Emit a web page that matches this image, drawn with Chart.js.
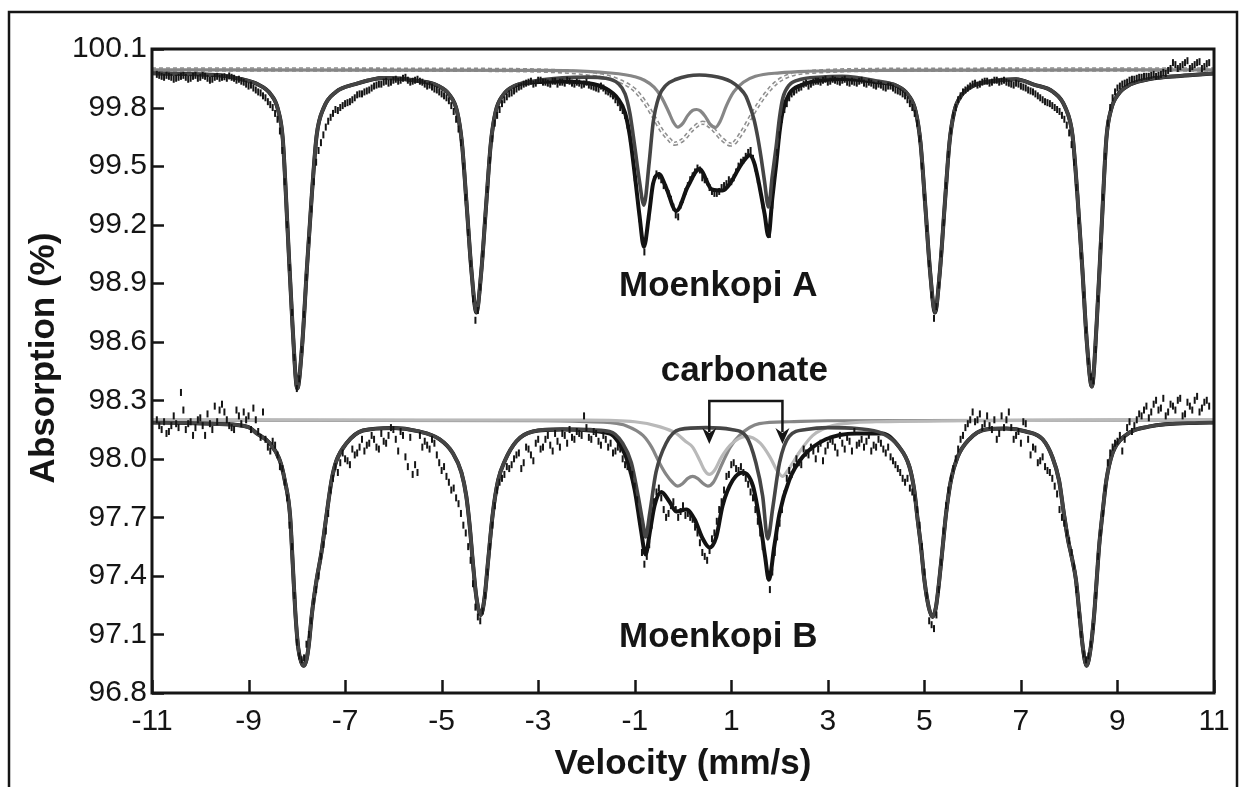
<!DOCTYPE html>
<html>
<head>
<meta charset="utf-8">
<title>Moenkopi Mössbauer spectra</title>
<script src="https://cdn.jsdelivr.net/npm/chart.js@4.4.1/dist/chart.umd.min.js"></script>
<style>
  html, body { margin: 0; padding: 0; background: #ffffff; }
  #wrap { width: 1244px; height: 787px; position: relative; }
</style>
</head>
<body>
<div id="wrap"><canvas id="spectra" width="1244" height="787"></canvas></div>
<script>
// ---- axis ticks ----
const velocityTicks = [-11, -9, -7, -5, -3, -1, 1, 3, 5, 7, 9, 11];
const absorptionTicks = [96.8, 97.1, 97.4, 97.7, 98.0, 98.3, 98.6, 98.9, 99.2, 99.5, 99.8, 100.1];

// ---- measured channels ----
// even channels sit at CHANNEL_START + i * CHANNEL_STEP, odd channels at HALF_START + i * CHANNEL_STEP
const CHANNEL_START = -10.9;
const HALF_START = -10.85;
const CHANNEL_STEP = 0.1;

const countsA = [
  99.97, 99.96, 99.965, 99.955, 99.95, 99.96, 99.955, 99.95, 99.965, 99.955,
  99.96, 99.94, 99.955, 99.95, 99.958, 99.962, 99.95, 99.945, 99.93, 99.91,
  99.9, 99.88, 99.86, 99.83, 99.80, 99.74, 99.58, 99.2, 98.75, 98.36,
  98.56, 98.93, 99.28, 99.52, 99.62, 99.70, 99.75, 99.79, 99.80, 99.82,
  99.83, 99.85, 99.87, 99.88, 99.89, 99.91, 99.92, 99.93, 99.925, 99.94,
  99.935, 99.95, 99.94, 99.935, 99.945, 99.93, 99.91, 99.905, 99.89, 99.87,
  99.85, 99.81, 99.74, 99.62, 99.34, 99.0, 98.71, 98.88, 99.22, 99.53,
  99.72, 99.79, 99.84, 99.87, 99.885, 99.905, 99.92, 99.93, 99.92, 99.94,
  99.93, 99.925, 99.935, 99.92, 99.93, 99.94, 99.925, 99.93, 99.915, 99.93,
  99.91, 99.9, 99.91, 99.885, 99.87, 99.84, 99.80, 99.76, 99.64, 99.44,
  99.23, 99.06, 99.24, 99.43, 99.45, 99.40, 99.36, 99.29, 99.24, 99.33,
  99.40, 99.45, 99.49, 99.44, 99.42, 99.37, 99.36, 99.39, 99.41, 99.42,
  99.47, 99.52, 99.55, 99.58, 99.49, 99.37, 99.24, 99.15, 99.43, 99.66,
  99.79, 99.85, 99.88, 99.90, 99.92, 99.91, 99.93, 99.935, 99.94, 99.93,
  99.945, 99.935, 99.94, 99.93, 99.935, 99.925, 99.94, 99.92, 99.925, 99.91,
  99.915, 99.9, 99.91, 99.89, 99.88, 99.86, 99.82, 99.77, 99.64, 99.34,
  99.0, 98.72, 98.89, 99.21, 99.56, 99.76, 99.84, 99.88, 99.90, 99.92,
  99.915, 99.93, 99.935, 99.93, 99.94, 99.935, 99.93, 99.92, 99.925, 99.91,
  99.90, 99.885, 99.87, 99.85, 99.83, 99.82, 99.80, 99.78, 99.74, 99.67,
  99.52, 99.22, 98.84, 98.50, 98.40, 98.82, 99.34, 99.72, 99.85, 99.90,
  99.92, 99.93, 99.945, 99.95, 99.955, 99.96, 99.965, 99.96, 99.97, 99.975,
  100.0, 100.02, 100.01, 100.03, 100.0, 100.02, 100.035, 100.01, 100.03
];
const countsAHalf = [
  99.965, 99.955, 99.96, 99.945, 99.955, 99.965, 99.945, 99.96, 99.95, 99.965,
  99.95, 99.945, 99.96, 99.955, 99.95, 99.955, 99.94, 99.935, 99.92, 99.915,
  99.89, 99.875, 99.85, 99.815, 99.77, 99.68, 99.42, 98.98, 98.52, 98.41,
  98.74, 99.12, 99.42, 99.58, 99.66, 99.73, 99.77, 99.785, 99.81, 99.825,
  99.84, 99.865, 99.87, 99.885, 99.90, 99.915, 99.92, 99.935, 99.93, 99.945,
  99.94, 99.955, 99.93, 99.94, 99.935, 99.92, 99.915, 99.895, 99.88, 99.86,
  99.835, 99.78, 99.69, 99.5, 99.16, 98.82, 98.76, 99.05, 99.38, 99.64,
  99.76, 99.82, 99.855, 99.875, 99.895, 99.91, 99.925, 99.935, 99.925, 99.94,
  99.93, 99.92, 99.935, 99.93, 99.925, 99.935, 99.92, 99.925, 99.92, 99.915,
  99.905, 99.895, 99.9, 99.88, 99.86, 99.825, 99.785, 99.71, 99.55, 99.33,
  99.12, 99.15, 99.36, 99.46, 99.43, 99.39, 99.33, 99.25, 99.30, 99.37,
  99.43, 99.47, 99.48, 99.43, 99.39, 99.36, 99.37, 99.40, 99.43, 99.44,
  99.50, 99.53, 99.57, 99.54, 99.43, 99.30, 99.17, 99.30, 99.57, 99.74,
  99.82, 99.87, 99.89, 99.905, 99.925, 99.92, 99.935, 99.93, 99.945, 99.935,
  99.94, 99.93, 99.945, 99.925, 99.93, 99.935, 99.925, 99.93, 99.915, 99.92,
  99.905, 99.91, 99.9, 99.885, 99.87, 99.84, 99.80, 99.72, 99.50, 99.18,
  98.84, 98.78, 99.05, 99.40, 99.68, 99.80, 99.86, 99.89, 99.91, 99.925,
  99.92, 99.935, 99.925, 99.94, 99.93, 99.94, 99.925, 99.915, 99.92, 99.905,
  99.89, 99.88, 99.86, 99.84, 99.825, 99.81, 99.79, 99.76, 99.71, 99.61,
  99.39, 99.04, 98.66, 98.42, 98.56, 99.09, 99.55, 99.80, 99.88, 99.91,
  99.925, 99.94, 99.945, 99.955, 99.96, 99.96, 99.97, 99.965, 99.98, 99.99,
  100.03, 100.0, 100.02, 100.04, 100.01, 100.03, 100.0, 100.025
];

const countsB = [
  98.20, 98.15, 98.13, 98.17, 98.18, 98.34, 98.15, 98.19, 98.16, 98.21,
  98.12, 98.18, 98.27, 98.25, 98.24, 98.17, 98.15, 98.22, 98.24, 98.22,
  98.26, 98.14, 98.24, 98.06, 98.09, 98.02, 97.95, 97.80, 97.55, 97.06,
  96.97, 97.05, 97.17, 97.33, 97.50, 97.63, 97.84, 97.96, 97.98, 98.0,
  97.97, 98.02, 98.06, 98.04, 98.08, 98.10, 98.05, 98.09, 98.12, 98.15,
  98.04, 98.12, 97.96, 97.92, 97.93, 98.06, 98.07, 98.1, 98.02, 97.94,
  97.91, 97.84, 97.80, 97.72, 97.62, 97.48, 97.24, 97.17, 97.3, 97.55,
  97.76, 97.88, 97.92, 97.95, 98.0, 98.03, 97.98, 98.05, 97.99, 98.10,
  98.06, 98.12, 98.04, 98.09, 98.13, 98.08, 98.11, 98.14, 98.12, 98.16,
  98.1, 98.13, 98.07, 98.10, 98.08, 98.04, 98.05, 97.97, 97.94, 97.86,
  97.68, 97.46, 97.56, 97.78, 97.85, 97.74, 97.72, 97.78, 97.70, 97.76,
  97.72, 97.69, 97.62, 97.52, 97.48, 97.59, 97.68, 97.78, 97.91, 97.97,
  97.95, 97.96, 97.90, 97.83, 97.74, 97.62, 97.48, 97.33, 97.52, 97.67,
  97.82, 97.94, 97.96, 97.98, 98.05, 98.02, 98.04, 98.05, 97.99, 98.07,
  98.09, 98.03, 98.08, 98.11, 98.04, 98.07, 98.1, 98.09, 98.04, 98.06,
  98.08, 98.03, 98.01, 97.97, 97.93, 97.88, 97.85, 97.80, 97.66, 97.42,
  97.17, 97.13, 97.33, 97.63, 97.84, 97.95, 98.05, 98.12, 98.18, 98.24,
  98.2, 98.16, 98.22, 98.15, 98.1, 98.22, 98.2, 98.16, 98.12, 98.08,
  98.18, 98.02, 98.05, 97.99, 97.96, 97.93, 97.86, 97.74, 97.67, 97.58,
  97.45, 97.2, 97.0, 96.99, 97.14, 97.5, 97.72, 97.98, 98.06, 98.09,
  98.04, 98.16, 98.14, 98.2, 98.22, 98.27, 98.24, 98.3, 98.26, 98.22,
  98.28, 98.25, 98.31, 98.23, 98.27, 98.3, 98.24, 98.29, 98.27
];
const countsBHalf = [
  98.17, 98.19, 98.14, 98.22, 98.16, 98.25, 98.18, 98.12, 98.2, 98.17,
  98.23, 98.15, 98.19, 98.28, 98.2, 98.16, 98.25, 98.18, 98.2, 98.15,
  98.2, 98.11, 98.1, 98.04, 98.07, 97.96, 97.88, 97.66, 97.3, 96.99,
  96.98, 97.1, 97.27, 97.4, 97.56, 97.72, 97.9, 97.93, 98.03, 97.99,
  98.05, 98.03, 98.1, 98.07, 98.12, 98.06, 98.13, 98.08, 98.16, 98.1,
  98.14, 98.01, 98.11, 97.97, 98.12, 98.09, 98.05, 98.08, 97.98, 97.96,
  97.88, 97.85, 97.77, 97.66, 97.55, 97.36, 97.19, 97.22, 97.42, 97.66,
  97.84, 97.9, 97.96, 97.97, 98.02, 97.95, 98.06, 98.02, 98.08, 98.05,
  98.1, 98.07, 98.13, 98.06, 98.12, 98.15, 98.1, 98.13, 98.22, 98.11,
  98.14, 98.09, 98.12, 98.06, 98.03, 98.06, 98.0, 97.96, 97.92, 97.79,
  97.52, 97.5, 97.66, 97.83, 97.8, 97.7, 97.76, 97.74, 97.73, 97.71,
  97.7, 97.65, 97.57, 97.5, 97.53, 97.62, 97.74, 97.84, 97.92, 97.98,
  97.94, 97.93, 97.87, 97.8, 97.68, 97.55, 97.4, 97.42, 97.6, 97.74,
  97.9, 97.92, 98.0, 97.97, 98.03, 98.06, 98.0, 98.08, 98.04, 98.1,
  98.06, 98.12, 98.05, 98.09, 98.14, 98.08, 98.06, 98.12, 98.07, 98.1,
  98.05, 98.06, 97.99, 97.95, 97.9, 97.9, 97.83, 97.74, 97.55, 97.3,
  97.15, 97.2, 97.47, 97.76, 97.9, 98.0, 98.1, 98.16, 98.2, 98.19,
  98.23, 98.18, 98.17, 98.2, 98.13, 98.16, 98.24, 98.1, 98.14, 98.19,
  98.1, 98.06, 97.98, 98.01, 97.94, 97.9, 97.82, 97.7, 97.62, 97.52,
  97.33, 97.1, 96.97, 97.05, 97.3, 97.62, 97.85, 98.03, 98.08, 98.12,
  98.1, 98.19, 98.17, 98.23, 98.25, 98.21, 98.28, 98.25, 98.31, 98.24,
  98.27, 98.3, 98.22, 98.29, 98.25, 98.32, 98.26, 98.3
];

// ---- Moenkopi A fitted curves ----
const fitAVel = [
  -11, -10.3, -9.6, -9.2, -8.8, -8.54, -8.39, -8.29, -8.19, -8.09,
  -7.99, -7.89, -7.79, -7.69, -7.59, -7.44, -7.19, -6.79, -6.2, -5.48,
  -5.08, -4.83, -4.68, -4.58, -4.48, -4.38, -4.28, -4.18, -4.08, -3.98,
  -3.88, -3.73, -3.48, -3.08, -2.5, -2.0, -1.6, -1.35, -1.2, -1.1,
  -1.0, -0.9, -0.81, -0.7, -0.62, -0.5, -0.35, -0.14, 0.1, 0.34,
  0.6, 0.82, 1.0, 1.17, 1.3, 1.38, 1.47, 1.55, 1.62, 1.69,
  1.77, 1.85, 1.93, 2.0, 2.07, 2.2, 2.45, 2.8, 3.3, 4.02,
  4.42, 4.67, 4.82, 4.92, 5.02, 5.12, 5.22, 5.32, 5.42, 5.52,
  5.62, 5.77, 6.02, 6.42, 6.9, 7.27, 7.67, 7.92, 8.07, 8.17,
  8.27, 8.37, 8.47, 8.57, 8.67, 8.77, 8.87, 9.02, 9.27, 9.67,
  10.3, 11
];
const sextetAAbs = [
  99.976, 99.972, 99.965, 99.948, 99.918, 99.868, 99.79, 99.637, 99.17, 98.687,
  98.36, 98.58, 98.98, 99.35, 99.656, 99.80, 99.88, 99.92, 99.952, 99.936,
  99.912, 99.863, 99.78, 99.62, 99.294, 98.956, 98.75, 98.956, 99.294, 99.62,
  99.78, 99.863, 99.912, 99.936, 99.952, 99.956, 99.95, 99.925, 99.87, 99.77,
  99.60, 99.42, 99.30, 99.52, 99.72, 99.855, 99.915, 99.945, 99.962, 99.967,
  99.962, 99.95, 99.932, 99.90, 99.86, 99.81, 99.74, 99.645, 99.54, 99.42,
  99.29, 99.45, 99.60, 99.75, 99.85, 99.915, 99.945, 99.955, 99.96, 99.936,
  99.912, 99.863, 99.78, 99.62, 99.294, 98.956, 98.75, 98.956, 99.294, 99.62,
  99.78, 99.863, 99.912, 99.936, 99.945, 99.917, 99.88, 99.80, 99.656, 99.352,
  98.984, 98.584, 98.37, 98.695, 99.175, 99.639, 99.791, 99.869, 99.919, 99.946,
  99.962, 99.975
];
const fitAAbs = [
  99.976, 99.972, 99.965, 99.948, 99.918, 99.868, 99.79, 99.637, 99.17, 98.687,
  98.36, 98.58, 98.98, 99.35, 99.656, 99.80, 99.88, 99.92, 99.952, 99.936,
  99.912, 99.863, 99.78, 99.62, 99.294, 98.956, 98.75, 98.956, 99.294, 99.62,
  99.78, 99.863, 99.912, 99.93, 99.934, 99.926, 99.898, 99.846, 99.773, 99.653,
  99.458, 99.244, 99.087, 99.26, 99.41, 99.46, 99.39, 99.27, 99.395, 99.485,
  99.38, 99.375, 99.42, 99.495, 99.54, 99.555, 99.52, 99.44, 99.35, 99.255,
  99.14, 99.335, 99.508, 99.675, 99.787, 99.87, 99.915, 99.937, 99.946, 99.93,
  99.912, 99.863, 99.78, 99.62, 99.294, 98.956, 98.75, 98.956, 99.294, 99.62,
  99.78, 99.863, 99.912, 99.936, 99.945, 99.917, 99.88, 99.80, 99.656, 99.352,
  98.984, 98.584, 98.37, 98.695, 99.175, 99.639, 99.791, 99.869, 99.919, 99.946,
  99.962, 99.975
];
const doubletAVel = [-11, -3, -2, -1.5, -1.2, -1.0, -0.8, -0.6, -0.45, -0.3, -0.2, -0.11, 0.0, 0.1, 0.2,
  0.28, 0.36, 0.46, 0.56, 0.67, 0.77, 0.9, 1.05, 1.25, 1.5, 2.0, 2.6, 4, 11];
const doubletAAbs = [99.993, 99.99, 99.985, 99.977, 99.968, 99.958, 99.94, 99.905, 99.855, 99.78, 99.725, 99.70, 99.72, 99.76, 99.785,
  99.79, 99.783, 99.755, 99.715, 99.698, 99.73, 99.81, 99.88, 99.93, 99.96, 99.978, 99.986, 99.99, 99.993];
const dashedAVel = [-11, -4, -2.5, -2.0, -1.6, -1.3, -1.0, -0.8, -0.6, -0.45, -0.3, -0.18, 0.0, 0.2,
  0.41, 0.6, 0.8, 1.0, 1.2, 1.4, 1.6, 1.8, 2.0, 2.3, 2.8, 4, 11];
const dashedAAbs = [99.995, 99.993, 99.985, 99.975, 99.96, 99.935, 99.89, 99.83, 99.75, 99.685, 99.64, 99.615, 99.635, 99.69,
  99.722, 99.695, 99.64, 99.61, 99.665, 99.75, 99.83, 99.895, 99.94, 99.972, 99.985, 99.993, 99.995];

// ---- Moenkopi B fitted curves ----
const sextetBVel = [
  -11, -10.3, -9.6, -9.0, -8.83, -8.56, -8.35, -8.25, -8.14, -8.08,
  -8.03, -7.97, -7.91, -7.855, -7.80, -7.75, -7.69, -7.59, -7.49, -7.38,
  -7.28, -7.18, -6.97, -6.63, -6.0, -5.5, -5.04, -4.77, -4.59, -4.49,
  -4.42, -4.35, -4.28, -4.19, -4.11, -4.04, -3.94, -3.83, -3.69, -3.45,
  -3.11, -2.5, -1.52, -1.25, -1.07, -0.93, -0.83, -0.776, -0.69, -0.56,
  -0.35, -0.07, 0.48, 1.0, 1.31, 1.51, 1.65, 1.755, 1.86, 2.0,
  2.2, 2.55, 3.0, 3.6, 4.13, 4.48, 4.69, 4.79, 4.86, 4.93,
  5.0, 5.09, 5.17, 5.24, 5.31, 5.38, 5.45, 5.55, 5.69, 5.93,
  6.27, 6.7, 7.1, 7.45, 7.65, 7.79, 7.89, 7.98, 8.05, 8.14,
  8.21, 8.28, 8.36, 8.45, 8.52, 8.57, 8.62, 8.69, 8.77, 8.9,
  9.14, 9.65, 10.69, 11
];
const sextetBAbs = [
  98.186, 98.184, 98.178, 98.162, 98.13, 98.08, 97.99, 97.89, 97.71, 97.44,
  97.21, 97.03, 96.96, 96.94, 96.97, 97.05, 97.2, 97.38, 97.52, 97.72,
  97.89, 97.99, 98.08, 98.145, 98.158, 98.142, 98.10, 98.03, 97.93, 97.81,
  97.66, 97.46, 97.29, 97.20, 97.29, 97.47, 97.72, 97.89, 97.99, 98.09,
  98.14, 98.152, 98.14, 98.08, 97.98, 97.81, 97.67, 97.60, 97.72, 97.93,
  98.08, 98.15, 98.16, 98.15, 98.115, 97.98, 97.81, 97.59, 97.75, 97.98,
  98.115, 98.15, 98.16, 98.155, 98.13, 98.06, 97.96, 97.84, 97.69, 97.55,
  97.38, 97.24, 97.19, 97.24, 97.38, 97.55, 97.72, 97.89, 98.01, 98.10,
  98.15, 98.155, 98.14, 98.10, 98.01, 97.89, 97.72, 97.58, 97.50, 97.38,
  97.21, 97.04, 96.94, 97.04, 97.21, 97.38, 97.55, 97.72, 97.89, 98.03,
  98.115, 98.165, 98.185, 98.186
];
const fitBVel = [
  -11, -10.3, -9.6, -9.0, -8.83, -8.56, -8.35, -8.25, -8.14, -8.08,
  -8.03, -7.97, -7.91, -7.855, -7.80, -7.75, -7.69, -7.59, -7.49, -7.38,
  -7.28, -7.18, -6.97, -6.63, -6.0, -5.5, -5.04, -4.77, -4.59, -4.49,
  -4.42, -4.35, -4.28, -4.19, -4.11, -4.04, -3.94, -3.83, -3.69, -3.45,
  -3.11, -2.5, -1.52, -1.35, -1.18, -1.0, -0.87, -0.776, -0.68, -0.59,
  -0.45, -0.28, -0.14, 0.07, 0.24, 0.41, 0.55, 0.69, 0.82, 1.03,
  1.24, 1.45, 1.62, 1.70, 1.78, 1.89, 2.0, 2.2, 2.48, 2.96,
  3.6, 4.13, 4.48, 4.69, 4.79, 4.86, 4.93, 5.0, 5.09, 5.17,
  5.24, 5.31, 5.38, 5.45, 5.55, 5.69, 5.93, 6.27, 6.7, 7.1,
  7.45, 7.65, 7.79, 7.89, 7.98, 8.05, 8.14, 8.21, 8.28, 8.36,
  8.45, 8.52, 8.57, 8.62, 8.69, 8.77, 8.9, 9.14, 9.65, 10.69,
  11
];
const fitBAbs = [
  98.186, 98.184, 98.178, 98.162, 98.13, 98.08, 97.99, 97.89, 97.71, 97.44,
  97.21, 97.03, 96.96, 96.94, 96.97, 97.05, 97.2, 97.38, 97.52, 97.72,
  97.89, 97.99, 98.08, 98.145, 98.158, 98.142, 98.10, 98.03, 97.93, 97.81,
  97.66, 97.46, 97.29, 97.20, 97.29, 97.47, 97.72, 97.89, 97.99, 98.09,
  98.14, 98.15, 98.13, 98.09, 98.01, 97.84, 97.635, 97.51, 97.635, 97.76,
  97.83, 97.78, 97.73, 97.74, 97.69, 97.59, 97.545, 97.60, 97.76, 97.89,
  97.93, 97.86, 97.635, 97.50, 97.38, 97.55, 97.72, 97.89, 98.01, 98.10,
  98.13, 98.13, 98.06, 97.96, 97.84, 97.69, 97.55, 97.38, 97.24, 97.19,
  97.24, 97.38, 97.55, 97.72, 97.89, 98.01, 98.10, 98.15, 98.155, 98.14,
  98.10, 98.01, 97.89, 97.72, 97.58, 97.50, 97.38, 97.21, 97.04, 96.94,
  97.04, 97.21, 97.38, 97.55, 97.72, 97.89, 98.03, 98.115, 98.165, 98.185,
  98.186
];
const doubletBVel = [-11, -3, -2, -1.5, -1.18, -0.83, -0.65, -0.49, -0.35, -0.22, -0.108, 0.0, 0.1,
  0.2, 0.3, 0.41, 0.514, 0.63, 0.82, 0.98, 1.17, 1.58, 2.2, 3.0, 11];
const doubletBAbs = [98.198, 98.195, 98.19, 98.185, 98.17, 98.12, 98.06, 97.98, 97.92, 97.88, 97.86, 97.875, 97.90,
  97.91, 97.90, 97.875, 97.86, 97.88, 97.98, 98.06, 98.12, 98.18, 98.19, 98.195, 98.198];
const carbonateBVel = [-11, -2, -1.0, -0.49, -0.14, 0.05, 0.2, 0.35, 0.45, 0.545, 0.65, 0.8, 1.0,
  1.31, 1.6, 1.8, 1.95, 2.06, 2.17, 2.3, 2.4, 2.69, 3.1, 4, 11];
const carbonateBAbs = [98.2, 98.198, 98.19, 98.165, 98.13, 98.09, 98.06, 97.99, 97.94, 97.92, 97.94, 98.01, 98.075,
  98.115, 98.08, 98.01, 97.94, 97.91, 97.94, 97.99, 98.03, 98.12, 98.17, 98.19, 98.2];

// ---- helpers ----
const FONT = "'Liberation Sans', Arial, Helvetica, sans-serif";
const INK = '#151515';
const pts = (xs, ys) => xs.map((v, i) => ({ x: v, y: ys[i] }));
const channelPts = (start, values) =>
  values.map((v, i) => ({ x: Math.round((start + i * CHANNEL_STEP) * 100) / 100, y: v }));

function curve(data, color, width, order, extra) {
  return Object.assign({
    data, borderColor: color, borderWidth: width, pointRadius: 0,
    cubicInterpolationMode: 'monotone', fill: false, order
  }, extra || {});
}
function channels(even, odd) {
  return {
    data: channelPts(CHANNEL_START, even).concat(channelPts(HALF_START, odd)),
    showLine: false, order: 1,
    pointStyle: 'line', pointRotation: 90, pointRadius: 3.5,
    pointBorderWidth: 2, pointBorderColor: INK, pointBackgroundColor: INK
  };
}

// inward tick marks, plot frame, page border, titles, labels and carbonate bracket
const decorations = {
  id: 'decorations',
  afterDatasetsDraw(chart) {
    const { ctx, chartArea: a, scales: { x, y } } = chart;
    ctx.save();
    ctx.strokeStyle = INK;
    ctx.lineWidth = 2.5;
    ctx.beginPath();
    y.ticks.forEach(t => {
      const py = Math.round(y.getPixelForValue(t.value)) + 0.5;
      ctx.moveTo(a.left, py); ctx.lineTo(a.left + 12, py);
    });
    x.ticks.forEach(t => {
      const px = Math.round(x.getPixelForValue(t.value)) + 0.5;
      ctx.moveTo(px, a.bottom); ctx.lineTo(px, a.bottom - 13);
    });
    ctx.stroke();
    ctx.lineWidth = 3;
    ctx.strokeRect(a.left, a.top, a.right - a.left, a.bottom - a.top);

    // page border
    ctx.lineWidth = 2.5;
    ctx.beginPath();
    ctx.moveTo(9, chart.height); ctx.lineTo(9, 12); ctx.lineTo(1237, 12); ctx.lineTo(1237, chart.height);
    ctx.stroke();

    ctx.fillStyle = INK;
    ctx.font = 'bold 35px ' + FONT;
    ctx.textAlign = 'center';

    // y axis title
    ctx.save();
    ctx.translate(44, 358);
    ctx.rotate(-Math.PI / 2);
    ctx.textBaseline = 'middle';
    ctx.fillText('Absorption (%)', 0, 0);
    ctx.restore();

    // sample names
    ctx.textBaseline = 'alphabetic';
    ctx.fillText('Moenkopi A', x.getPixelForValue(0.73), y.getPixelForValue(98.834));
    ctx.fillText('Moenkopi B', x.getPixelForValue(0.73), y.getPixelForValue(97.036));
    ctx.fillText('carbonate', x.getPixelForValue(1.27), y.getPixelForValue(98.399));

    // bracket pointing at the two carbonate lines
    const xl = x.getPixelForValue(0.545), xr = x.getPixelForValue(2.06);
    const top = y.getPixelForValue(98.296), tip = y.getPixelForValue(98.076);
    ctx.lineWidth = 2.5;
    ctx.beginPath();
    ctx.moveTo(xl, tip - 12); ctx.lineTo(xl, top); ctx.lineTo(xr, top); ctx.lineTo(xr, tip - 12);
    ctx.stroke();
    [xl, xr].forEach(px => {
      ctx.beginPath();
      ctx.moveTo(px - 7, tip - 16); ctx.lineTo(px, tip - 11); ctx.lineTo(px + 7, tip - 16);
      ctx.lineTo(px, tip); ctx.closePath(); ctx.fill();
    });
    ctx.restore();
  }
};

new Chart(document.getElementById('spectra'), {
  type: 'line',
  data: {
    datasets: [
      curve(pts(dashedAVel, dashedAAbs), '#8e8e8e', 4.5, 20, { borderDash: [4, 3] }),
      curve(pts(dashedAVel, dashedAAbs), '#ffffff', 1.4, 19, { borderDash: [4, 3] }),
      curve(pts(fitAVel, fitAAbs), '#121212', 4, 15),
      curve(pts(fitBVel, fitBAbs), '#121212', 4, 15),
      curve(pts(doubletAVel, doubletAAbs), '#868686', 3.2, 12),
      curve(pts(doubletBVel, doubletBAbs), '#868686', 3.2, 12),
      curve(pts(carbonateBVel, carbonateBAbs), '#b9b9b9', 3.2, 11),
      curve(pts(fitAVel, sextetAAbs), '#454545', 3.6, 10),
      curve(pts(sextetBVel, sextetBAbs), '#454545', 3.6, 10),
      channels(countsA, countsAHalf),
      channels(countsB, countsBHalf)
    ]
  },
  options: {
    responsive: false,
    animation: false,
    devicePixelRatio: 1,
    layout: { padding: { left: 0, right: 30, top: 49, bottom: 0 } },
    plugins: { legend: { display: false }, tooltip: { enabled: false } },
    scales: {
      x: {
        type: 'linear', position: 'bottom', min: -11, max: 11,
        afterBuildTicks: s => { s.ticks = velocityTicks.map(v => ({ value: v })); },
        afterFit: s => { s.height = 94; },
        grid: { display: false, drawTicks: false },
        border: { display: false },
        ticks: {
          font: { family: FONT, size: 30 }, color: INK, padding: 11,
          maxRotation: 0, autoSkip: false, callback: v => String(v)
        },
        title: {
          display: true, text: 'Velocity (mm/s)', color: INK,
          font: { family: FONT, size: 35, weight: 'bold' },
          padding: { top: 0, bottom: 2 }
        }
      },
      y: {
        type: 'linear', min: 96.8, max: 100.1,
        afterBuildTicks: s => { s.ticks = absorptionTicks.map(v => ({ value: v })); },
        afterFit: s => { s.width = 152; },
        grid: { display: false, drawTicks: false },
        border: { display: false },
        ticks: {
          font: { family: FONT, size: 30 }, color: INK, padding: 5,
          autoSkip: false, callback: v => Number(v).toFixed(1)
        }
      }
    }
  },
  plugins: [decorations]
});
</script>
</body>
</html>
